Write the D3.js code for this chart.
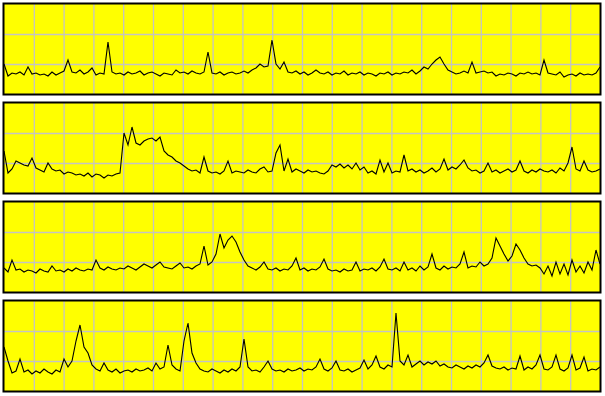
<!DOCTYPE html>
<html>
<head>
<meta charset="utf-8">
<script src="https://cdn.jsdelivr.net/npm/d3@7"></script>
<style>
  body { margin: 0; background: #fff; }
  svg { display: block; }
</style>
</head>
<body>
<svg id="chart" width="605" height="396"></svg>
<script>
// one value per sample, height above the panel floor (0..90)
var series1 = [30,18,21,20,22,19,27,20,21,19,20,18,22,19,21,23,34,22,21,24,
  20,22,26,19,21,20,52,22,20,21,19,22,20,21,23,19,21,22,20,18,
  21,20,19,24,21,22,20,23,21,20,22,42,21,20,22,19,21,22,20,21,
  23,21,24,26,30,27,28,54,30,25,32,22,21,23,20,22,19,21,24,21,
  20,22,19,21,20,23,19,21,20,22,19,21,20,18,21,20,22,19,21,20,
  22,21,24,20,23,27,25,30,34,37,30,24,22,20,21,23,21,32,21,22,
  23,21,22,18,20,19,21,20,18,21,20,22,20,21,19,34,21,20,19,22,
  17,19,20,18,21,19,20,19,21,27];
var series2 = [42,20,24,32,30,28,27,35,25,23,21,30,24,22,23,19,21,20,18,19,
  17,20,16,19,18,15,18,17,19,20,60,48,66,50,48,52,54,55,52,56,
  42,38,36,32,30,27,24,22,23,20,36,22,20,21,19,22,32,20,22,21,
  20,23,21,20,24,26,21,22,40,48,22,34,21,24,22,20,23,21,22,20,
  19,22,28,26,29,25,28,24,30,23,26,20,22,19,33,21,30,20,22,21,
  38,22,24,21,23,20,22,25,21,24,34,23,26,24,28,33,25,22,23,20,
  22,30,21,23,20,22,24,21,23,32,22,20,23,21,24,22,21,23,20,25,
  22,30,46,24,22,32,23,21,22,24];
var series3 = [24,20,32,22,23,20,22,21,19,23,21,20,26,21,22,20,23,21,24,22,
  21,23,22,32,24,22,25,23,22,24,23,26,24,22,25,28,26,24,27,30,
  25,24,23,26,29,24,25,23,26,28,46,27,30,38,58,44,52,56,50,40,
  32,26,24,22,25,30,23,22,24,21,23,22,26,34,22,24,21,23,22,25,
  33,23,21,22,20,23,21,22,30,21,23,22,24,21,25,33,23,22,24,21,
  30,22,24,21,26,22,25,38,24,22,26,23,25,24,28,40,24,26,25,30,
  26,28,34,54,46,38,31,36,48,42,34,28,26,27,24,18,26,16,30,18,
  28,17,32,20,26,19,30,22,42,28];
var series4 = [44,30,18,20,32,19,21,17,20,18,22,19,17,21,19,32,24,30,50,66,
  44,38,26,22,20,28,21,19,22,18,20,21,19,22,20,21,23,20,28,22,
  24,46,26,22,20,50,68,38,28,22,20,19,22,20,18,21,19,22,20,24,
  52,24,20,21,19,24,30,22,20,21,19,22,20,21,23,20,22,21,24,32,
  22,20,23,30,21,20,22,19,21,23,31,22,26,35,24,22,26,24,78,30,
  26,36,24,27,30,26,29,27,30,25,27,24,23,26,24,22,25,23,26,24,
  28,36,25,23,22,24,21,23,22,35,21,24,22,26,36,22,21,24,36,22,
  20,23,36,21,23,34,20,22,21,24];

var panels = [series1, series2, series3, series4];
var xDivisions = 20;
var yDivisions = 3;
var yMax = 90;

var svg = d3.select("#chart");
var left = 4, right = 600, panelH = 90, panelStep = 99, firstTop = 4;

var n = series1.length;
var x = d3.scaleLinear().domain([0, n - 1]).range([left, right]);
var xGrid = d3.range(1, xDivisions).map(function(k){ return k * (n - 1) / xDivisions; });
var yGrid = d3.range(1, yDivisions).map(function(k){ return k * yMax / yDivisions; });

panels.forEach(function(values, p){
  var top = firstTop + p * panelStep;
  var y = d3.scaleLinear().domain([0, yMax]).range([top + panelH, top]);
  var g = svg.append("g");

  g.append("rect")
    .attr("x", left).attr("y", top)
    .attr("width", right - left).attr("height", panelH)
    .attr("fill", "#ffff00");

  // grid through the library's axes
  g.append("g")
    .attr("transform", "translate(0," + (top + panelH) + ")")
    .call(d3.axisBottom(x).tickValues(xGrid).tickSize(-panelH).tickFormat(""))
    .call(function(a){ a.select(".domain").remove(); })
    .selectAll("line").attr("stroke", "#c4c4c4").attr("stroke-width", 1.3);

  g.append("g")
    .attr("transform", "translate(" + left + ",0)")
    .call(d3.axisLeft(y).tickValues(yGrid).tickSize(-(right - left)).tickFormat(""))
    .call(function(a){ a.select(".domain").remove(); })
    .selectAll("line").attr("stroke", "#c4c4c4").attr("stroke-width", 1.3);

  var line = d3.line()
    .x(function(d, i){ return x(i); })
    .y(function(d){ return y(d); });

  g.append("path")
    .datum(values)
    .attr("d", line)
    .attr("fill", "none")
    .attr("stroke", "#000")
    .attr("stroke-width", 1.1)
    .attr("stroke-linejoin", "miter");

  g.append("rect")
    .attr("x", left - 0.5).attr("y", top - 0.5)
    .attr("width", right - left + 1).attr("height", panelH + 1)
    .attr("fill", "none")
    .attr("stroke", "#000")
    .attr("stroke-width", 2);
});
</script>
</body>
</html>
